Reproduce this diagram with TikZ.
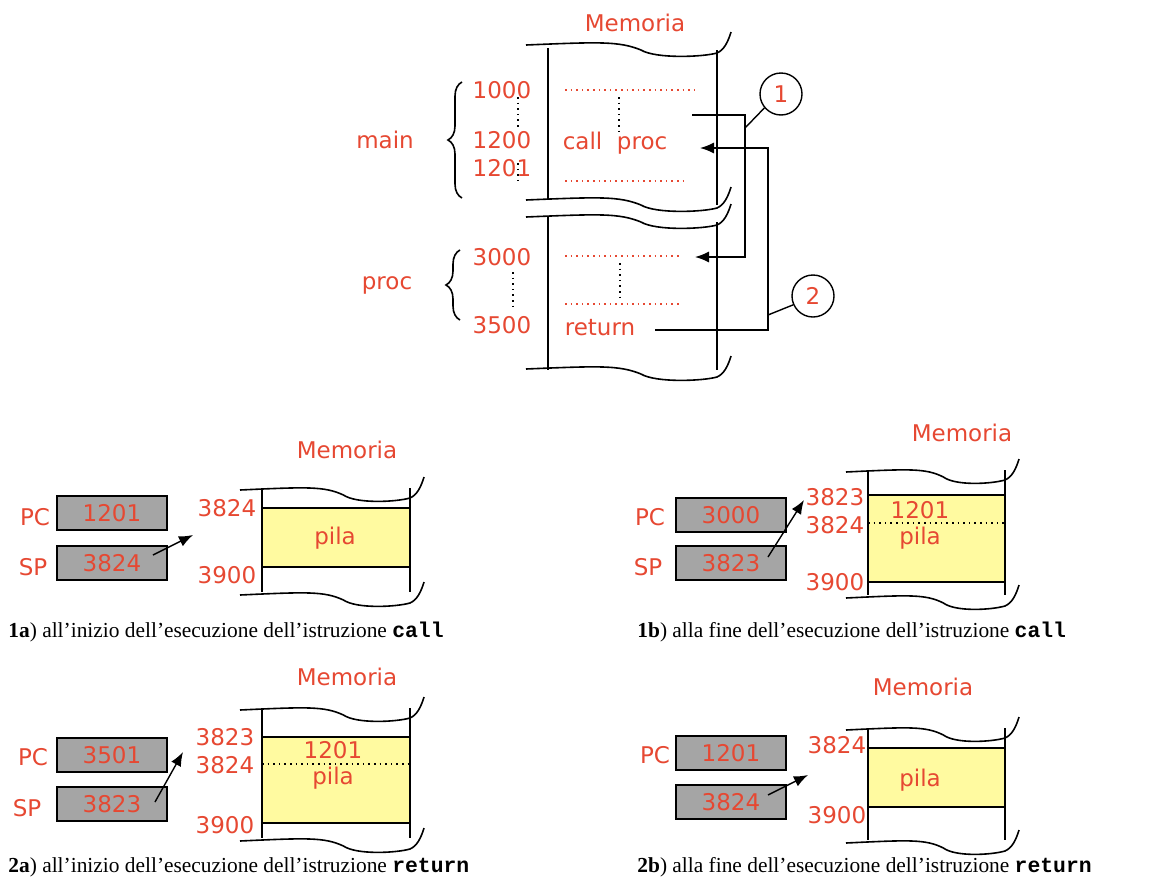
\documentclass[tikz,border=0pt]{standalone}
\usepackage{fontspec}
\setmainfont{Liberation Serif}
\newfontfamily\memfont{DejaVu Sans}
\newfontfamily\codefont{Liberation Mono}
\usetikzlibrary{arrows.meta, decorations.pathreplacing}
\definecolor{rossomem}{RGB}{230,72,50}
\definecolor{grigioreg}{RGB}{165,165,165}
\definecolor{giallopila}{RGB}{255,250,160}
\tikzset{
  rosso/.style      = {text=rossomem, font=\memfont\fontsize{11.5}{13}\selectfont, inner sep=0pt},
  registro/.style   = {draw=black, line width=0.8pt, fill=grigioreg, minimum width=55pt, minimum height=17pt, inner sep=0pt},
  bordo/.style      = {black, line width=1.3pt},
  onda/.style       = {black, line width=0.8pt},
  freccia/.style    = {-{Latex[length=7pt,width=5.5pt]}, black, line width=0.7pt},
  puntirossi/.style = {rossomem, dotted, line width=0.8pt},
  puntineri/.style  = {black, dotted, line width=0.8pt},
  cerchio/.style    = {circle, draw=black, line width=0.7pt, minimum size=21pt, inner sep=0pt},
  pila/.style       = {fill=giallopila, draw=black, line width=0.6pt},
  graffa/.style     = {decorate, decoration={brace, amplitude=7pt}, line width=0.8pt},
  didascalia/.style = {font=\fontsize{10.7}{13}\selectfont, anchor=base west, inner sep=0pt}
}
% bordo spezzato della memoria: x sinistra, x destra, y
\newcommand{\onda}[3]{%
  \draw[onda] ({#1-22},{#3+1}) .. controls ({#1+0.3*(#2-#1)},{#3-2}) and ({#1+0.42*(#2-#1)},{#3-3}) .. ({#1+0.55*(#2-#1)},{#3+6})
    .. controls ({#1+0.64*(#2-#1)},{#3+15}) and ({#2-14},{#3+13}) .. ({#2},{#3+9})
    .. controls ({#2+7},{#3+6}) and ({#2+11},{#3-2}) .. ({#2+14},{#3-12});}
% colonna di memoria: x sinistra, x destra, y alto, y basso
\newcommand{\colonna}[4]{%
  \draw[bordo] (#1,#3) -- (#1,#4);
  \draw[bordo] (#2,#3) -- (#2,#4);
  \onda{#1}{#2}{#3+1}
  \onda{#1}{#2}{#4+2}}

\begin{document}
\begin{tikzpicture}[x=0.5pt, y=-0.5pt, >=Latex]
  \useasboundingbox (0,0) rectangle (1168,884);

  % ---- schema call / return
  \node[rosso] (memtop) at (635,23) {Memoria};
  \draw[bordo] (548,48) -- (548,200);
  \draw[bordo] (548,217) -- (548,370);
  \draw[bordo] (717,50) -- (717,205);
  \draw[bordo] (717,222) -- (717,370);
  \onda{548}{717}{44}
  \onda{548}{717}{199}
  \onda{548}{717}{216}
  \onda{548}{717}{368}

  \foreach \ind/\yy in {1000/90, 1200/140, 1201/168, 3000/257, 3500/325}{
    \node[rosso] (ind\ind) at (502,\yy) {\ind};
  }
  \draw[puntineri] (518,97) -- (518,127);
  \draw[puntineri] (518,163) -- (518,183);
  \draw[puntineri] (513,272) -- (513,307);

  \draw[graffa] (462,198) -- (462,82);
  \draw[graffa] (460,320) -- (460,250);
  \node[rosso] (main) at (385,140) {main};
  \node[rosso] (proc) at (387,285) {proc};

  \draw[puntirossi] (565,90) -- (697,90);
  \draw[puntineri] (619,97) -- (619,132);
  \node[rosso] (call) at (615,143) {call\ \ proc};
  \draw[puntirossi] (565,181) -- (687,181);
  \draw[puntirossi] (565,256) -- (680,256);
  \draw[puntineri] (620,263) -- (620,298);
  \draw[puntirossi] (565,304) -- (680,304);
  \node[rosso] (ret) at (600,328) {return};

  \coordinate (inizio1) at (692,115);
  \coordinate (fine1) at (695,257);
  \coordinate (inizio2) at (655,330);
  \coordinate (fine2) at (700,148);
  \draw[freccia] (inizio1) -- ++(53,0) |- (fine1);
  \draw[freccia] (inizio2) -- ++(113,0) |- (fine2);

  \node[cerchio] (n1) at (781,94) {\textcolor{rossomem}{\memfont\fontsize{11.5}{13}\selectfont 1}};
  \node[cerchio] (n2) at (813,296) {\textcolor{rossomem}{\memfont\fontsize{11.5}{13}\selectfont 2}};
  \coordinate (g1) at (745,128);
  \coordinate (g2) at (768,315);
  \draw[black, line width=0.7pt] (n1.220) -- (g1);
  \draw[black, line width=0.7pt] (n2.204) -- (g2);

  % ---- 1a
  \node[rosso] (mem1a) at (347,450) {Memoria};
  \fill[pila] (262,508) rectangle (410,567);
  \colonna{262}{410}{488}{592}
  \node[rosso] (pila1a) at (335,538) {pila};
  \node[rosso] (pc1a) at (35,517) {PC};
  \node[rosso] (sp1a) at (33,567) {SP};
  \node[registro] (rpc1a) at (112,513) {};
  \node[rosso] at (rpc1a) {1201};
  \node[registro] (rsp1a) at (112,563) {};
  \node[rosso] at (rsp1a) {3824};
  \node[rosso] (a3824-1a) at (227,508) {3824};
  \node[rosso] (a3900-1a) at (227,575) {3900};
  \coordinate (da1a) at (153,555);
  \coordinate (a1a) at (193,535);
  \draw[freccia] (da1a) -- (a1a);
  \node[didascalia] (cap1a) at (8,637) {\textbf{1a}) all’inizio dell’esecuzione dell’istruzione {\codefont\bfseries call}};

  % ---- 1b
  \node[rosso] (mem1b) at (962,433) {Memoria};
  \fill[pila] (868,495) rectangle (1005,582);
  \draw[puntineri] (868,523) -- (1005,523);
  \colonna{868}{1005}{470}{595}
  \node[rosso] (val1b) at (920,510) {1201};
  \node[rosso] (pila1b) at (920,538) {pila};
  \node[rosso] (pc1b) at (650,517) {PC};
  \node[rosso] (sp1b) at (648,567) {SP};
  \node[registro] (rpc1b) at (731,515) {};
  \node[rosso] at (rpc1b) {3000};
  \node[registro] (rsp1b) at (731,563) {};
  \node[rosso] at (rsp1b) {3823};
  \node[rosso] (a3823-1b) at (835,497) {3823};
  \node[rosso] (a3824-1b) at (835,525) {3824};
  \node[rosso] (a3900-1b) at (835,582) {3900};
  \coordinate (da1b) at (768,557);
  \coordinate (a1b) at (804,500);
  \draw[freccia] (da1b) -- (a1b);
  \node[didascalia] (cap1b) at (637,637) {\textbf{1b}) alla fine dell'esecuzione dell'istruzione {\codefont\bfseries call}};

  % ---- 2a
  \node[rosso] (mem2a) at (347,677) {Memoria};
  \fill[pila] (262,737) rectangle (410,823);
  \draw[puntineri] (262,764) -- (410,764);
  \colonna{262}{410}{708}{838}
  \node[rosso] (val2a) at (333,750) {1201};
  \node[rosso] (pila2a) at (333,778) {pila};
  \node[rosso] (pc2a) at (33,757) {PC};
  \node[rosso] (sp2a) at (27,808) {SP};
  \node[registro] (rpc2a) at (112,755) {};
  \node[rosso] at (rpc2a) {3501};
  \node[registro] (rsp2a) at (112,804) {};
  \node[rosso] at (rsp2a) {3823};
  \node[rosso] (a3823-2a) at (225,737) {3823};
  \node[rosso] (a3824-2a) at (225,765) {3824};
  \node[rosso] (a3900-2a) at (225,825) {3900};
  \coordinate (da2a) at (155,802);
  \coordinate (a2a) at (183,752);
  \draw[freccia] (da2a) -- (a2a);
  \node[didascalia] (cap2a) at (8,872) {\textbf{2a}) all’inizio dell’esecuzione dell’istruzione {\codefont\bfseries return}};

  % ---- 2b
  \node[rosso] (mem2b) at (923,687) {Memoria};
  \fill[pila] (868,748) rectangle (1005,807);
  \colonna{868}{1005}{728}{840}
  \node[rosso] (pila2b) at (920,780) {pila};
  \node[rosso] (pc2b) at (655,755) {PC};
  \node[registro] (rpc2b) at (731,753) {};
  \node[rosso] at (rpc2b) {1201};
  \node[registro] (rsp2b) at (731,802) {};
  \node[rosso] at (rsp2b) {3824};
  \node[rosso] (a3824-2b) at (837,745) {3824};
  \node[rosso] (a3900-2b) at (837,815) {3900};
  \coordinate (da2b) at (768,795);
  \coordinate (a2b) at (808,775);
  \draw[freccia] (da2b) -- (a2b);
  \node[didascalia] (cap2b) at (637,872) {\textbf{2b}) alla fine dell’esecuzione dell’istruzione {\codefont\bfseries return}};
\end{tikzpicture}
\end{document}
